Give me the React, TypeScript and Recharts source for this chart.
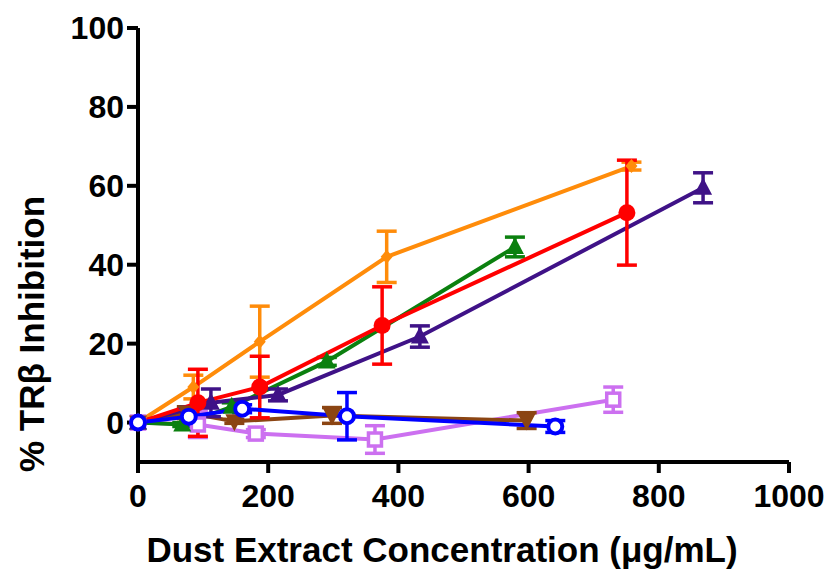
import { CartesianGrid, ErrorBar, Line, LineChart, XAxis, YAxis } from "recharts";

// Dose response: % TRβ inhibition vs dust extract concentration, one line per extract.
type Pt = { x: number; y: number; err: number };

const orange: Pt[] = [
  { x: 0, y: 0, err: 0 },
  { x: 85, y: 9, err: 3 },
  { x: 187, y: 20.5, err: 9 },
  { x: 382, y: 42, err: 6.5 },
  { x: 758, y: 65, err: 1 },
];
const red: Pt[] = [
  { x: 0, y: 0, err: 0 },
  { x: 92, y: 5, err: 8.5 },
  { x: 187, y: 9, err: 7.8 },
  { x: 375, y: 24.6, err: 9.8 },
  { x: 751, y: 53.2, err: 13.3 },
];
const green: Pt[] = [
  { x: 0, y: 0, err: 0 },
  { x: 68, y: -0.5, err: 0.5 },
  { x: 144, y: 4, err: 1 },
  { x: 290, y: 15.5, err: 1 },
  { x: 579, y: 44.5, err: 2.5 },
];
const indigo: Pt[] = [
  { x: 0, y: 0, err: 0 },
  { x: 112, y: 5, err: 3.5 },
  { x: 215, y: 7, err: 1.5 },
  { x: 433, y: 21.8, err: 2.7 },
  { x: 868, y: 59.5, err: 3.8 },
];
const brown: Pt[] = [
  { x: 0, y: 0, err: 0 },
  { x: 75, y: 2.5, err: 1.5 },
  { x: 148, y: 0.3, err: 0.5 },
  { x: 298, y: 1.8, err: 2 },
  { x: 597, y: 0.5, err: 2 },
];
const violet: Pt[] = [
  { x: 0, y: 0, err: 0 },
  { x: 92, y: -0.5, err: 3.3 },
  { x: 181, y: -2.8, err: 1 },
  { x: 364, y: -4.3, err: 3.5 },
  { x: 730, y: 5.8, err: 3.2 },
];
const blue: Pt[] = [
  { x: 0, y: 0, err: 0 },
  { x: 78, y: 1.5, err: 2.3 },
  { x: 160, y: 3.5, err: 1 },
  { x: 321, y: 1.6, err: 6 },
  { x: 641, y: -1, err: 1.5 },
];

const xTicks = [0, 200, 400, 600, 800, 1000];
const yTicks = [0, 20, 40, 60, 80, 100];

const FONT = "'Liberation Sans', Arial, sans-serif";

type DotProps = { cx?: number; cy?: number; index?: number };

const circle = (color: string) => (p: DotProps) => (
  <circle key={p.index} cx={p.cx} cy={p.cy} r={8.5} fill={color} />
);
const openCircle = (color: string) => (p: DotProps) => (
  <circle key={p.index} cx={p.cx} cy={p.cy} r={7} fill="#fff" stroke={color} strokeWidth={4} />
);
const openSquare = (color: string) => (p: DotProps) => (
  <rect key={p.index} x={(p.cx ?? 0) - 6.5} y={(p.cy ?? 0) - 6.5} width={13} height={13} fill="#fff" stroke={color} strokeWidth={3.5} />
);
const diamond = (color: string) => (p: DotProps) => {
  const x = p.cx ?? 0;
  const y = p.cy ?? 0;
  return <polygon key={p.index} points={`${x},${y - 7} ${x + 6},${y} ${x},${y + 7} ${x - 6},${y}`} fill={color} />;
};
const triUp = (color: string) => (p: DotProps) => {
  const x = p.cx ?? 0;
  const y = p.cy ?? 0;
  return <polygon key={p.index} points={`${x},${y - 10} ${x + 9},${y + 7} ${x - 9},${y + 7}`} fill={color} />;
};
const triDown = (color: string) => (p: DotProps) => {
  const x = p.cx ?? 0;
  const y = p.cy ?? 0;
  return <polygon key={p.index} points={`${x - 9},${y - 7} ${x + 9},${y - 7} ${x},${y + 10}`} fill={color} />;
};

const series = [
  { name: "violet", data: violet, color: "#CC70F0", dot: openSquare("#CC70F0") },
  { name: "brown", data: brown, color: "#8B4513", dot: triDown("#8B4513") },
  { name: "orange", data: orange, color: "#FF8C0A", dot: diamond("#FF8C0A") },
  { name: "green", data: green, color: "#0B800F", dot: triUp("#0B800F") },
  { name: "indigo", data: indigo, color: "#3F1287", dot: triUp("#3F1287") },
  { name: "red", data: red, color: "#FF0000", dot: circle("#FF0000") },
  { name: "blue", data: blue, color: "#0000FF", dot: openCircle("#0000FF") },
];

export default function App() {
  return (
    <div style={{ position: "absolute", left: 0, top: 0, background: "#fff" }}>
      <LineChart width={829} height={572} margin={{ top: 28, right: 40, bottom: 0, left: 0 }}>
        <CartesianGrid stroke="none" />
        <XAxis
          type="number"
          dataKey="x"
          domain={[0, 1000]}
          ticks={xTicks}
          height={110}
          stroke="#000"
          strokeWidth={4}
          tickSize={11}
          tickMargin={11}
          tick={{ fill: "#000", fontSize: 32, fontWeight: 700, fontFamily: FONT }}
          label={{
            content: () => (
              <text x={442} y={549} textAnchor="middle" dominantBaseline="central" fontSize={35} fontWeight={700} fontFamily={FONT} fill="#000">
                Dust Extract Concentration (μg/mL)
              </text>
            ),
          }}
        />
        <YAxis
          type="number"
          domain={[-10, 100]}
          ticks={yTicks}
          width={138}
          stroke="#000"
          strokeWidth={4}
          tickSize={11}
          tickMargin={3}
          tick={{ fill: "#000", fontSize: 32, fontWeight: 700, fontFamily: FONT }}
          label={{
            content: () => (
              <text x={31} y={334} transform="rotate(-90 31 334)" textAnchor="middle" dominantBaseline="central" fontSize={35} fontWeight={700} fontFamily={FONT} fill="#000">
                % TRβ Inhibition
              </text>
            ),
          }}
        />
        {series.map((s) => (
          <Line
            key={s.name}
            data={s.data}
            dataKey="y"
            type="linear"
            stroke={s.color}
            strokeWidth={4}
            dot={s.dot}
            activeDot={false}
            isAnimationActive={false}
          >
            <ErrorBar dataKey="err" direction="y" width={10} stroke={s.color} strokeWidth={3.5} />
          </Line>
        ))}
      </LineChart>
    </div>
  );
}
